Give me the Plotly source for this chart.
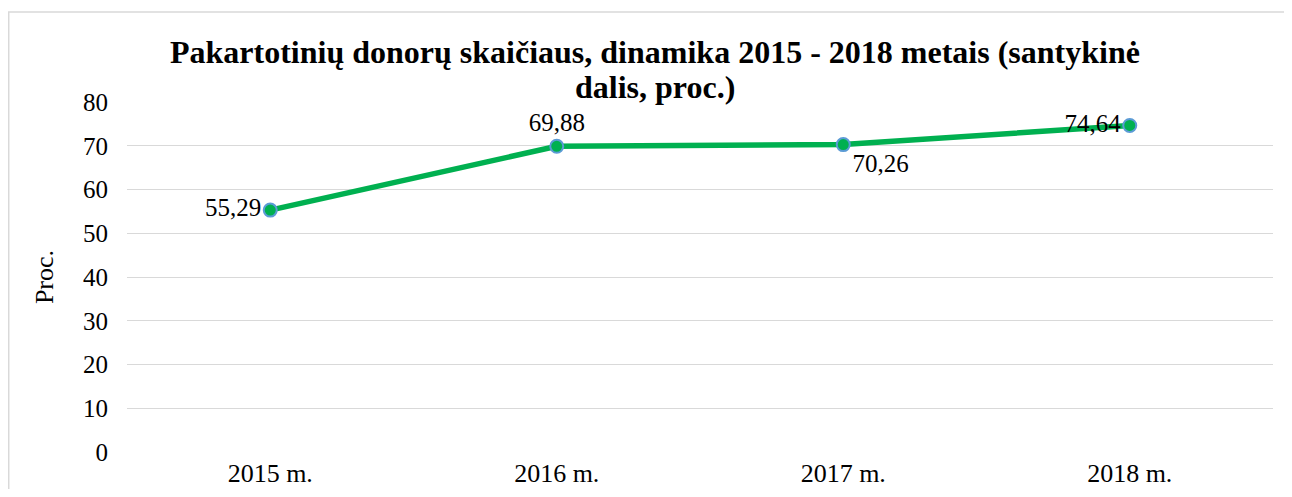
import plotly.graph_objects as go

categories = ["2015 m.", "2016 m.", "2017 m.", "2018 m."]
values = [55.29, 69.88, 70.26, 74.64]
labels = ["55,29", "69,88", "70,26", "74,64"]
label_pos = ["middle left", "top center", "bottom right", "middle left"]
y_ticks = [0, 10, 20, 30, 40, 50, 60, 70, 80]
title_lines = ["Pakartotinių donorų skaičiaus, dinamika 2015 - 2018 metais (santykinė",
               "dalis, proc.)"]

FONT = "Liberation Serif, Times New Roman, serif"

fig = go.Figure()
fig.add_trace(go.Scatter(
    x=categories, y=values, mode="lines+markers+text",
    text=labels, textposition=label_pos,
    textfont=dict(family=FONT, size=25, color="black"),
    line=dict(color="#00B050", width=5.5),
    marker=dict(size=13, color="#00B050", line=dict(color="#5B9BD5", width=2)),
    cliponaxis=False, showlegend=False,
))

# page body has 8px margin; plot area at page x 127..1273, y 102..452
fig.update_layout(
    width=1276, height=481,
    margin=dict(l=119, r=11, t=94, b=37),
    paper_bgcolor="white", plot_bgcolor="white",
    font=dict(family=FONT, size=25, color="black"),
    xaxis=dict(
        type="category", range=[-0.5, 3.5], showgrid=False, showline=False, zeroline=False,
        ticks="", ticklabelstandoff=3, automargin=False,
        tickfont=dict(family=FONT, size=26, color="black"),
    ),
    yaxis=dict(
        range=[0, 80], tickvals=y_ticks, showgrid=True, gridcolor="#d9d9d9",
        gridwidth=1, zeroline=False, showline=False, ticks="",
        ticklabelstandoff=18, automargin=False,
        tickfont=dict(family=FONT, size=25, color="black"),
        title=dict(text="Proc.", font=dict(family=FONT, size=26, color="black"), standoff=21),
    ),
    annotations=[
        dict(text="<b>" + title_lines[0] + "</b>", xref="paper", yref="paper",
             x=0.4607, y=1.1429, xanchor="center", yanchor="middle", showarrow=False,
             font=dict(family=FONT, size=32, color="black")),
        dict(text="<b>" + title_lines[1] + "</b>", xref="paper", yref="paper",
             x=0.4607, y=1.0429, xanchor="center", yanchor="middle", showarrow=False,
             font=dict(family=FONT, size=32, color="black")),
    ],
    shapes=[dict(
        type="rect", xref="paper", yref="paper",
        x0=-0.1032, x1=1.05, y0=-0.2, y1=1.2571,
        line=dict(color="#d9d9d9", width=1.5), fillcolor="rgba(0,0,0,0)", layer="below",
    )],
)

fig.write_html("out.html")
